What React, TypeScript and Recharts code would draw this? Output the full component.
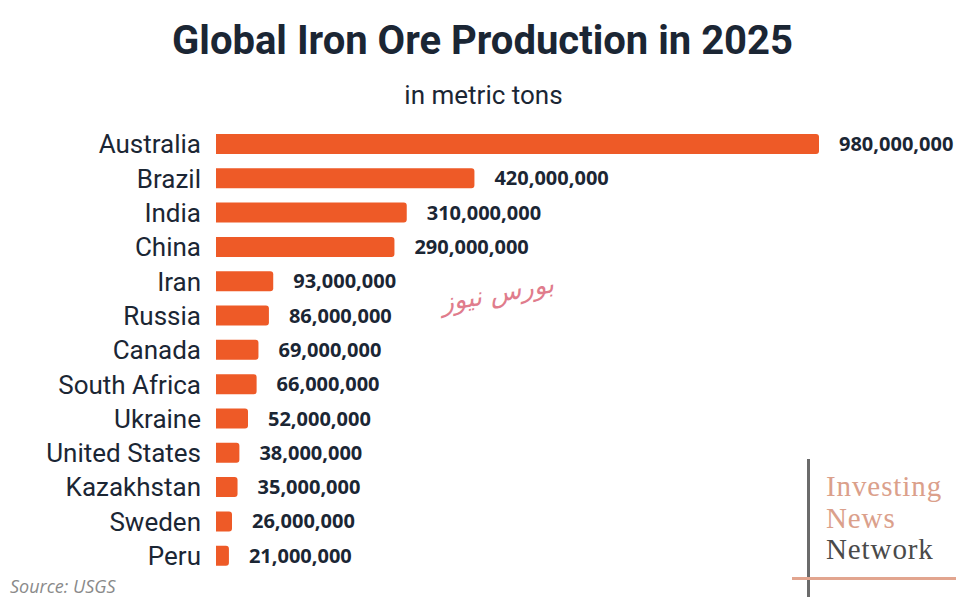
import React from "react";
import { BarChart, Bar, XAxis, YAxis, LabelList } from "recharts";

const countries = [
  "Australia",
  "Brazil",
  "India",
  "China",
  "Iran",
  "Russia",
  "Canada",
  "South Africa",
  "Ukraine",
  "United States",
  "Kazakhstan",
  "Sweden",
  "Peru",
];

const production = [
  980000000, 420000000, 310000000, 290000000, 93000000, 86000000, 69000000,
  66000000, 52000000, 38000000, 35000000, 26000000, 21000000,
];

const chartData = countries.map((name, i) => ({ name, value: production[i] }));

const ink = "#1b2634";
const orange = "#ee5a27";

export default function App() {
  return (
    <div
      style={{
        position: "absolute",
        top: 0,
        left: 0,
        width: 977,
        height: 597,
        background: "#fff",
        overflow: "hidden",
        fontFamily: "Roboto, sans-serif",
      }}
    >
      <div
        style={{
          position: "absolute",
          top: 17,
          left: 0,
          width: 965,
          textAlign: "center",
          fontSize: 40,
          fontWeight: 700,
          color: ink,
        }}
      >
        Global Iron Ore Production in 2025
      </div>
      <div
        style={{
          position: "absolute",
          top: 80,
          left: 0,
          width: 967,
          textAlign: "center",
          fontSize: 26,
          color: ink,
        }}
      >
        in metric tons
      </div>

      <div style={{ position: "absolute", top: 0, left: 0 }}>
        <BarChart
          width={977}
          height={597}
          data={chartData}
          layout="vertical"
          margin={{ top: 127, right: 158, bottom: 24, left: 0 }}
        >
          <XAxis type="number" hide domain={[0, 980000000]} />
          <YAxis
            type="category"
            dataKey="name"
            width={216}
            axisLine={false}
            tickLine={false}
            tickSize={0}
            tickMargin={15}
            interval={0}
            tick={{ fill: ink, fontSize: 26, fontFamily: "Roboto, sans-serif" }}
          />
          <Bar
            dataKey="value"
            fill={orange}
            barSize={20}
            radius={[0, 3, 3, 0]}
            isAnimationActive={false}
          >
            <LabelList
              dataKey="value"
              position="right"
              offset={20}
              formatter={(v: number) => v.toLocaleString("en-US")}
              style={{
                fill: ink,
                fontSize: 20,
                fontWeight: 700,
                fontFamily: "'Open Sans', sans-serif",
              }}
            />
          </Bar>
        </BarChart>
      </div>

      {/* watermark */}
      <div
        style={{
          position: "absolute",
          top: 278,
          left: 440,
          fontSize: 26,
          color: "#e07c8c",
          fontStyle: "italic",
          transform: "rotate(-10deg)",
          fontFamily: "'DejaVu Sans', sans-serif",
        }}
      >
        بورس نیوز
      </div>

      {/* logo */}
      <div
        style={{
          position: "absolute",
          left: 807,
          top: 459,
          width: 3,
          height: 138,
          background: "#6b6b6b",
        }}
      />
      <div
        style={{
          position: "absolute",
          left: 792,
          top: 577,
          width: 164,
          height: 3,
          background: "#e2a58f",
        }}
      />
      <div
        style={{
          position: "absolute",
          left: 826,
          top: 471,
          fontFamily: "'Liberation Serif', serif",
          fontSize: 29,
          letterSpacing: 0.9,
          lineHeight: "31.5px",
        }}
      >
        <div style={{ color: "#dba08b" }}>Investing</div>
        <div style={{ color: "#dba08b" }}>News</div>
        <div style={{ color: "#4a4a4a" }}>Network</div>
      </div>

      <div
        style={{
          position: "absolute",
          left: 10,
          top: 576,
          fontSize: 18,
          lineHeight: "20px",
          fontStyle: "italic",
          color: "#8a8a8a",
          fontFamily: "'Open Sans', sans-serif",
        }}
      >
        Source: USGS
      </div>
    </div>
  );
}
